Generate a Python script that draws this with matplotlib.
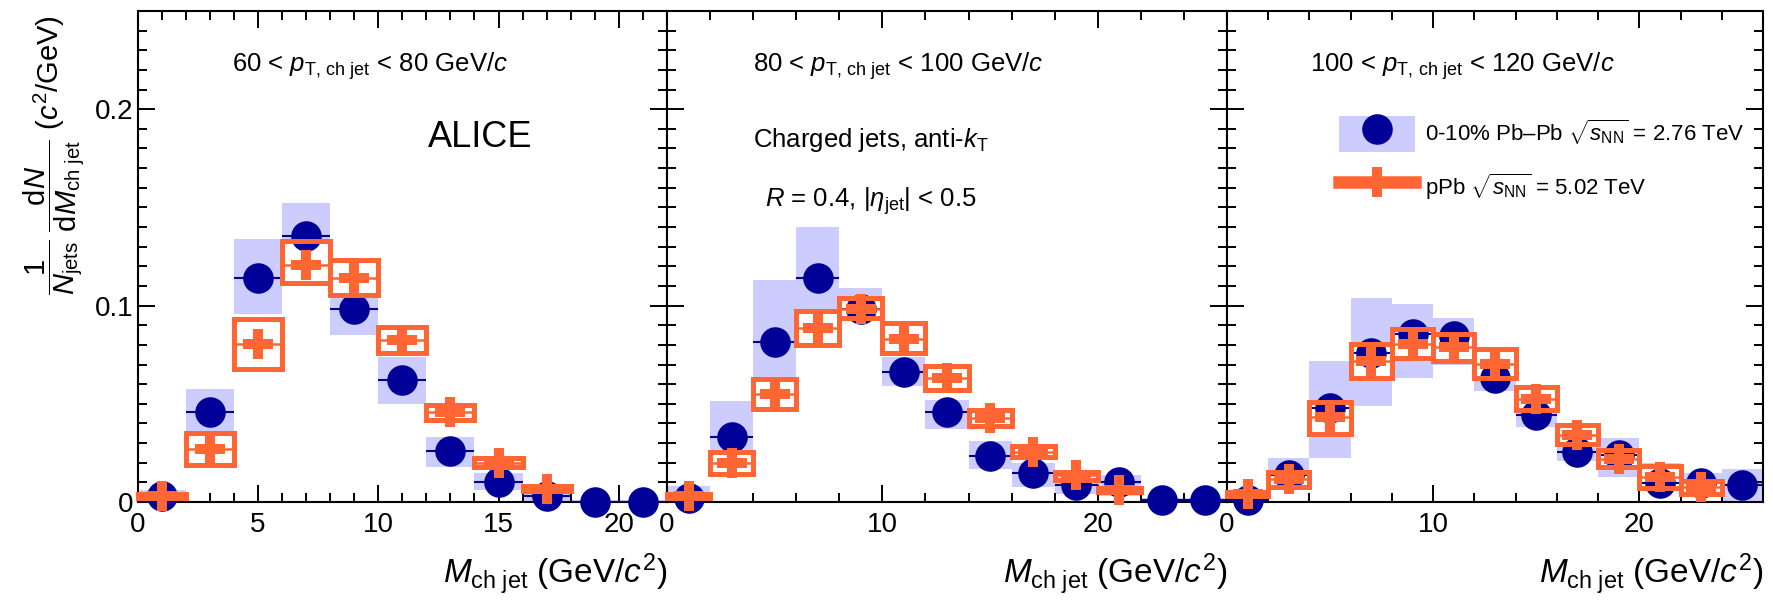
import matplotlib
matplotlib.use("Agg")
import matplotlib.pyplot as plt
from matplotlib.patches import Rectangle, Patch
from matplotlib.lines import Line2D
from matplotlib.legend_handler import HandlerTuple
from matplotlib.ticker import MultipleLocator, FuncFormatter

plt.rcParams['font.family'] = ['Liberation Sans', 'DejaVu Sans']
plt.rcParams['mathtext.fontset'] = 'custom'
plt.rcParams['mathtext.rm'] = 'Liberation Sans'
plt.rcParams['mathtext.it'] = 'Liberation Sans:italic'
plt.rcParams['mathtext.bf'] = 'Liberation Sans:bold'
plt.rcParams['mathtext.sf'] = 'Liberation Sans'

# ---------------- data ----------------
BIN_HALF = 1.0  # half bin width in GeV/c^2

# Panel 1 : 60 < pT < 80 GeV/c
pbpb1_x = [1, 3, 5, 7, 9, 11, 13, 15, 17, 19, 21]
pbpb1_y = [0.003, 0.0457, 0.1138, 0.1354, 0.0984, 0.062, 0.026, 0.0102, 0.003, 0.0, 0.0]
pbpb1_lo = [0.0, 0.0335, 0.0955, 0.118, 0.085, 0.050, 0.0177, 0.006, 0.0, 0.0, 0.0]
pbpb1_hi = [0.006, 0.0575, 0.134, 0.152, 0.112, 0.0738, 0.033, 0.0148, 0.006, 0.001, 0.001]
ppb1_x = [1, 3, 5, 7, 9, 11, 13, 15, 17]
ppb1_y = [0.003, 0.027, 0.0807, 0.1205, 0.1142, 0.0823, 0.0457, 0.020, 0.0065]
ppb1_lo = [0.002, 0.0186, 0.0678, 0.1113, 0.1053, 0.0757, 0.0417, 0.0178, 0.0055]
ppb1_hi = [0.004, 0.0351, 0.0932, 0.1331, 0.1231, 0.0893, 0.0493, 0.0222, 0.0080]

# Panel 2 : 80 < pT < 100 GeV/c
pbpb2_x = [1, 3, 5, 7, 9, 11, 13, 15, 17, 19, 21, 23, 25]
pbpb2_y = [0.002, 0.0329, 0.0817, 0.114, 0.0984, 0.0663, 0.0457, 0.0236, 0.0148, 0.0089, 0.010, 0.001, 0.001]
pbpb2_lo = [0.0, 0.0167, 0.052, 0.088, 0.092, 0.059, 0.037, 0.017, 0.0075, 0.004, 0.003, 0.0, 0.0]
pbpb2_hi = [0.008, 0.0512, 0.113, 0.140, 0.109, 0.074, 0.052, 0.031, 0.0197, 0.0128, 0.0138, 0.002, 0.002]
ppb2_x = [1, 3, 5, 7, 9, 11, 13, 15, 17, 19, 21]
ppb2_y = [0.003, 0.0197, 0.055, 0.0886, 0.0984, 0.083, 0.063, 0.0429, 0.0256, 0.0138, 0.006]
ppb2_lo = [0.002, 0.0141, 0.0473, 0.0800, 0.0938, 0.0761, 0.0568, 0.0387, 0.0230, 0.0111, 0.0050]
ppb2_hi = [0.004, 0.0253, 0.0627, 0.0971, 0.1037, 0.0912, 0.0692, 0.0467, 0.0287, 0.0154, 0.0070]

# Panel 3 : 100 < pT < 120 GeV/c
pbpb3_x = [1, 3, 5, 7, 9, 11, 13, 15, 17, 19, 21, 23, 25]
pbpb3_y = [0.001, 0.0138, 0.048, 0.0758, 0.0856, 0.0846, 0.063, 0.0443, 0.0256, 0.024, 0.0098, 0.0098, 0.0089]
pbpb3_lo = [0.0, 0.006, 0.0226, 0.049, 0.063, 0.070, 0.0567, 0.038, 0.0207, 0.0128, 0.0069, 0.003, 0.0]
pbpb3_hi = [0.003, 0.0226, 0.0718, 0.104, 0.101, 0.0935, 0.070, 0.051, 0.031, 0.0325, 0.0197, 0.0148, 0.017]
ppb3_x = [1, 3, 5, 7, 9, 11, 13, 15, 17, 19, 21, 23]
ppb3_y = [0.004, 0.0118, 0.0433, 0.0718, 0.0807, 0.0787, 0.0705, 0.0526, 0.034, 0.022, 0.0128, 0.0075]
ppb3_lo = [0.003, 0.0076, 0.0348, 0.0633, 0.0731, 0.0716, 0.0633, 0.0466, 0.0293, 0.0180, 0.0073, 0.0043]
ppb3_hi = [0.005, 0.0154, 0.0507, 0.0804, 0.0883, 0.0857, 0.0777, 0.0587, 0.0391, 0.0263, 0.0184, 0.0105]

pt_labels = [r"60 < $p_{\rm T,\,ch\ jet}$ < 80 GeV/$c$",
             r"80 < $p_{\rm T,\,ch\ jet}$ < 100 GeV/$c$",
             r"100 < $p_{\rm T,\,ch\ jet}$ < 120 GeV/$c$"]
x_max = [22, 26, 26]
x_major = [5, 10, 10]
x_minor = [1, 2, 2]
y_max = 0.25
legend_labels = [r"0-10% Pb–Pb $\sqrt{s_{\rm NN}}$ = 2.76 TeV",
                 r"pPb $\sqrt{s_{\rm NN}}$ = 5.02 TeV"]

# ---------------- style ----------------
NAVY = '#000099'
BLUE_FILL = '#ccccff'
ORANGE = '#ff6633'

W, H = 1773, 606
fig = plt.figure(figsize=(W / 100, H / 100), dpi=100)

bottom = 1 - 502 / H
top = 1 - 11 / H
edges = [137.5, 667, 1227, 1763]
axes = []
for i in range(3):
    ax = fig.add_axes([edges[i] / W, bottom, (edges[i + 1] - edges[i]) / W, top - bottom])
    axes.append(ax)

panels = [
    (pbpb1_x, pbpb1_y, pbpb1_lo, pbpb1_hi, ppb1_x, ppb1_y, ppb1_lo, ppb1_hi),
    (pbpb2_x, pbpb2_y, pbpb2_lo, pbpb2_hi, ppb2_x, ppb2_y, ppb2_lo, ppb2_hi),
    (pbpb3_x, pbpb3_y, pbpb3_lo, pbpb3_hi, ppb3_x, ppb3_y, ppb3_lo, ppb3_hi),
]

for i, (ax, p) in enumerate(zip(axes, panels)):
    bx, by, blo, bhi, ox, oy, olo, ohi = p
    # PbPb systematic boxes
    for x, lo, hi in zip(bx, blo, bhi):
        ax.add_patch(Rectangle((x - BIN_HALF, lo), 2 * BIN_HALF, hi - lo,
                               facecolor=BLUE_FILL, edgecolor='none', zorder=1))
    # pPb systematic boxes: white interior
    for x, lo, hi in zip(ox, olo, ohi):
        ax.add_patch(Rectangle((x - BIN_HALF, lo), 2 * BIN_HALF, hi - lo,
                               facecolor='white', edgecolor='none', zorder=2))
    # PbPb points
    ax.hlines(by, [x - BIN_HALF for x in bx], [x + BIN_HALF for x in bx],
              colors=NAVY, linewidth=1.5, zorder=3)
    ax.plot(bx, by, 'o', color=NAVY, markersize=22, markeredgewidth=0,
            zorder=3.5, clip_on=False)
    # pPb box outlines
    for x, lo, hi in zip(ox, olo, ohi):
        ax.add_patch(Rectangle((x - BIN_HALF, lo), 2 * BIN_HALF, hi - lo,
                               facecolor='none', edgecolor=ORANGE, linewidth=3.6,
                               zorder=4, clip_on=False))
    # pPb points
    ax.hlines(oy, [x - BIN_HALF for x in ox], [x + BIN_HALF for x in ox],
              colors=ORANGE, linewidth=1.8, zorder=5)
    ax.plot(ox, oy, 'P', color=ORANGE, markersize=22, markeredgewidth=0,
            zorder=5, clip_on=False)

    ax.set_xlim(0, x_max[i])
    ax.set_ylim(0, y_max)
    ax.xaxis.set_major_locator(MultipleLocator(x_major[i]))
    ax.xaxis.set_minor_locator(MultipleLocator(x_minor[i]))
    ax.yaxis.set_major_locator(MultipleLocator(0.1))
    ax.yaxis.set_minor_locator(MultipleLocator(0.01))
    ax.xaxis.set_major_formatter(FuncFormatter(lambda v, pos: f"{v:g}"))
    ax.yaxis.set_major_formatter(FuncFormatter(lambda v, pos: f"{v:g}"))
    ax.tick_params(which='both', direction='in', top=True, right=True, width=1.4,
                   labelsize=20)
    ax.tick_params(which='major', length=12.5)
    ax.tick_params(which='minor', length=6.5)
    ax.tick_params(axis='x', pad=7)
    ax.tick_params(axis='y', pad=3)
    if i > 0:
        ax.tick_params(axis='y', labelleft=False)
    for s in ax.spines.values():
        s.set_linewidth(1.5)
    ax.set_xlabel(r"$M_{\rm ch\ jet}$ (GeV/$c^{2}$)", fontsize=24, va='baseline', ha='right')
    ax.xaxis.set_label_coords(1.0, -0.167)
    ax.text([0.178, 0.154, 0.155][i], 0.876, pt_labels[i], transform=ax.transAxes,
            fontsize=18.5, ha='left', va='baseline')

axes[0].text(0.549, 0.723, "ALICE", transform=axes[0].transAxes, fontsize=26,
             ha='left', va='baseline')
axes[1].text(0.154, 0.723, r"Charged jets, anti-$k_{\rm T}$", transform=axes[1].transAxes,
             fontsize=18.5, ha='left', va='baseline')
axes[1].text(0.175, 0.601, r"$R$ = 0.4, |$\eta_{\rm jet}$| < 0.5", transform=axes[1].transAxes,
             fontsize=18.5, ha='left', va='baseline')

fig.text(54 / W, 1 - 15 / H,
         r"$\dfrac{1}{N_{\rm jets}}\;\dfrac{{\rm d}N}{{\rm d}M_{\rm ch\ jet}}$ ($c^{2}$/GeV)",
         rotation=90, ha='center', va='top', fontsize=21)

# legend
h_pbpb = (Patch(facecolor=BLUE_FILL, edgecolor='none'),
          Line2D([], [], linestyle='none', marker='o', color=NAVY, markersize=22,
                 markeredgewidth=0))
h_ppb = Line2D([], [], color=ORANGE, linewidth=9, marker='P', markersize=22,
               markeredgewidth=0)
axes[2].legend([h_pbpb, h_ppb], legend_labels,
               handler_map={tuple: HandlerTuple(ndivide=1)},
               loc='upper left', bbox_to_anchor=(0.209, 0.786), frameon=False,
               fontsize=16, borderpad=0, borderaxespad=0, handlelength=3.4,
               handleheight=2.1, labelspacing=0.8, handletextpad=0.45, numpoints=1)

fig.savefig('out.png', dpi=100)
